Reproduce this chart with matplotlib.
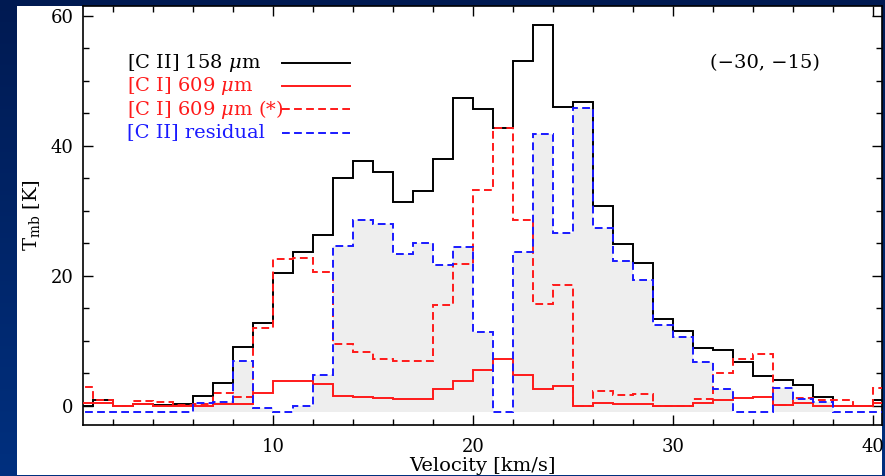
import numpy as np
import matplotlib
matplotlib.use("Agg")
import matplotlib.pyplot as plt
from matplotlib.patches import Rectangle
from matplotlib.lines import Line2D
from matplotlib.ticker import MultipleLocator

# channel edges (1 km/s wide channels)
edges = np.arange(0, 42)

# [C II] 158 um
cii = [0.0, 0.8, 0.0, 0.3, 0.15, 0.2, 1.4, 3.5, 9.0, 12.7, 20.4, 23.6, 26.3, 35.1,
       37.7, 36.0, 31.3, 33.0, 37.9, 47.3, 45.6, 42.7, 53.1, 58.5, 46.0, 46.7, 30.7,
       24.8, 21.9, 13.3, 11.4, 8.8, 8.5, 6.7, 4.6, 4.0, 3.2, 1.3, 0.0, 0.0, 0.9]
# [C I] 609 um
ci = [0.4, 0.4, 0.0, 0.3, 0.0, 0.0, 0.0, 0.3, 0.2, 2.0, 3.7, 3.85, 3.3, 1.5,
      1.3, 1.1, 1.05, 1.05, 2.6, 3.7, 5.5, 7.1, 4.7, 2.6, 3.05, 0.0, 0.4,
      0.25, 0.25, 0.0, 0.0, 0.4, 0.85, 1.2, 1.3, 0.15, 0.4, 0.0, 0.0, 0.0, 0.4]
# [C I] 609 um (*)
ci_scaled = [2.8, 0.9, 0.0, 0.7, 0.6, 0.15, 0.2, 1.9, 1.3, 12.0, 22.6, 22.7, 20.5, 9.5,
             8.3, 7.1, 6.8, 6.9, 15.4, 21.8, 33.1, 42.7, 28.5, 15.7, 18.5, 0.0, 2.3,
             1.6, 1.8, 0.0, 0.0, 1.0, 5.0, 7.2, 7.9, 0.15, 1.2, 0.8, 0.8, 0.0, 2.7]
# [C II] residual
cii_resid = [-1.0, -1.0, -1.0, -1.0, -1.0, -1.0, 0.4, 0.5, 6.8, -0.4, -1.0, 0.0, 4.7, 24.6,
             28.6, 28.0, 23.4, 25.0, 21.6, 24.4, 11.3, -1.0, 23.6, 41.8, 26.5, 45.8, 27.3,
             22.2, 19.3, 12.4, 10.5, 6.7, 2.5, -1.0, -1.0, 2.7, 1.0, 0.5, -1.0, -1.0, -1.0]

labels = ["[C II] 158 $\\mu$m", "[C I] 609 $\\mu$m", "[C I] 609 $\\mu$m (*)", "[C II] residual"]
colors = ["black", "#ff1a1a", "#ff1a1a", "#1a1aff"]
dash = (0, (4, 2.2))
styles = ["-", "-", dash, dash]
series = [cii, ci, ci_scaled, cii_resid]
offset_label = "(\u221230, \u221215)"

plt.rcParams["font.family"] = ["DejaVu Serif"]
plt.rcParams["mathtext.fontset"] = "dejavuserif"

fig = plt.figure(figsize=(8.85, 4.76), dpi=100)
fig.patch.set_facecolor("#00205e")

# dark blue gradient backdrop
bg = fig.add_axes([0, 0, 1, 1], zorder=-10)
grad = np.linspace(0, 1, 256).reshape(-1, 1)
bg.imshow(grad, aspect="auto", extent=[0, 1, 0, 1], origin="upper",
          cmap=matplotlib.colors.LinearSegmentedColormap.from_list("bg", ["#001a52", "#00307f"]))
bg.axis("off")

# white panel
fig.patches.append(Rectangle((0.0192, 0.0021), 0.9774, 0.9853, transform=fig.transFigure,
                             facecolor="white", edgecolor="none", zorder=-5))

ax = fig.add_axes([0.0938, 0.1071, 0.9028, 0.8803])
ax.set_facecolor("white")

ax.stairs(cii_resid, edges, baseline=-1, fill=True, color="#eeeeee", zorder=1)
for vals, c, ls in zip(series, colors, styles):
    ax.stairs(vals, edges, baseline=None, color=c, linestyle=ls, linewidth=1.4, zorder=3)

ax.set_xlim(0.5, 40.45)
ax.set_ylim(-3, 61.5)
ax.xaxis.set_major_locator(MultipleLocator(10))
ax.xaxis.set_minor_locator(MultipleLocator(2))
ax.yaxis.set_major_locator(MultipleLocator(20))
ax.yaxis.set_minor_locator(MultipleLocator(5))
ax.tick_params(which="both", direction="in", top=True, right=True, width=1.0, labelsize=13)
ax.tick_params(which="major", length=7)
ax.tick_params(which="minor", length=4)
ax.tick_params(axis="x", pad=9)
ax.tick_params(axis="y", pad=7)
for s in ax.spines.values():
    s.set_linewidth(1.2)

ax.set_xlabel("Velocity [km/s]", fontsize=14, labelpad=1)
ax.set_ylabel(r"$\mathrm{T_{mb}}$ [K]", fontsize=14, labelpad=6)

# legend drawn as in the original: labels left-aligned, keys in a column
row_y = [0.864, 0.809, 0.753, 0.698]
for lab, c, ls, y in zip(labels, colors, styles, row_y):
    ax.text(0.055, y, lab, color=c, fontsize=14, transform=ax.transAxes,
            ha="left", va="center", zorder=5)
    ax.add_line(Line2D([0.249, 0.334], [y, y], color=c, linestyle=ls, linewidth=1.4,
                       transform=ax.transAxes, zorder=5))

ax.text(0.922, 0.864, offset_label, fontsize=14, transform=ax.transAxes,
        ha="right", va="center")

fig.savefig("out.png", dpi=100, facecolor=fig.get_facecolor())
